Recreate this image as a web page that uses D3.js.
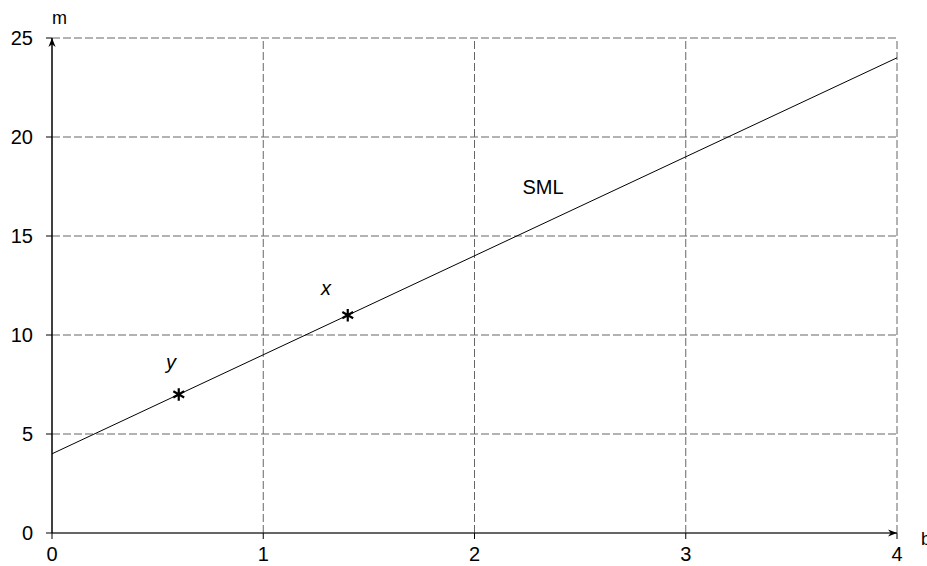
<!DOCTYPE html>
<html><head><meta charset="utf-8">
<script src="https://cdn.jsdelivr.net/npm/d3@7"></script>
<style>body{margin:0;background:#fff}svg{display:block}text{font-family:Arial,"Liberation Sans",sans-serif}</style>
</head><body><svg id="c" width="927" height="566"></svg>
<script>
const xTicks = [0, 1, 2, 3, 4];
const yTicks = [0, 5, 10, 15, 20, 25];
const smlLine = [[0, 4], [4, 24]];
const pointNames = ["y", "x"];
const pointBeta = [0.6, 1.4];
const pointReturn = [7, 11];
const labelBeta = [0.563, 1.297];
const labelReturn = [8.26, 12.02];
const smlLabel = {text: "SML", b: 2.324, m: 17.1};
const xAxisName = "b", yAxisName = "m";

const svg = d3.select("#c");
const x = d3.scaleLinear().domain([0, 4]).range([52, 897]);
const y = d3.scaleLinear().domain([0, 25]).range([533, 38]);

// grid
const g = svg.append("g");
g.selectAll(".vg").data(xTicks.filter(d => d > 0)).enter().append("line")
  .attr("x1", d => x(d)).attr("x2", d => x(d)).attr("y1", y(0)).attr("y2", y(25))
  .attr("stroke", "#666").attr("stroke-width", 1).attr("stroke-dasharray", "8,3");
g.selectAll(".hg").data(yTicks.filter(d => d > 0)).enter().append("line")
  .attr("x1", x(0)).attr("x2", x(4)).attr("y1", d => y(d)).attr("y2", d => y(d))
  .attr("stroke", "#666").attr("stroke-width", 1).attr("stroke-dasharray", "8,3");

// axes
const defs = svg.append("defs");
defs.append("marker").attr("id", "arr").attr("viewBox", "0 0 10 10").attr("refX", 10).attr("refY", 5)
  .attr("markerWidth", 9).attr("markerHeight", 9).attr("orient", "auto-start-reverse")
  .attr("markerUnits", "userSpaceOnUse")
  .append("path").attr("d", "M0,1 L10,5 L0,9 L3,5 Z").attr("fill", "#000");

svg.append("line").attr("x1", x(0)).attr("x2", x(4)).attr("y1", y(0)).attr("y2", y(0))
  .attr("stroke", "#333").attr("stroke-width", 1.5).attr("marker-end", "url(#arr)");
svg.append("line").attr("x1", x(0)).attr("x2", x(0)).attr("y1", y(0)).attr("y2", y(25))
  .attr("stroke", "#000").attr("stroke-width", 1.5).attr("marker-end", "url(#arr)");

// ticks
svg.selectAll(".yt").data(yTicks).enter().append("line")
  .attr("x1", x(0) - 6).attr("x2", x(0)).attr("y1", d => y(d)).attr("y2", d => y(d))
  .attr("stroke", "#000");
svg.selectAll(".xt").data(xTicks).enter().append("line")
  .attr("x1", d => x(d)).attr("x2", d => x(d)).attr("y1", y(0)).attr("y2", y(0) + 6)
  .attr("stroke", "#000");
svg.selectAll(".yl").data(yTicks).enter().append("text")
  .attr("x", 33).attr("y", d => y(d)).attr("dy", "0.36em").attr("text-anchor", "end")
  .attr("font-size", 20).text(d => d);
svg.selectAll(".xl").data(xTicks).enter().append("text")
  .attr("x", d => x(d)).attr("y", 561).attr("text-anchor", "middle")
  .attr("font-size", 20).text(d => d);
svg.append("text").attr("x", 52).attr("y", 24).attr("font-size", 18).text(yAxisName);
svg.append("text").attr("x", 921).attr("y", 545).attr("font-size", 18).text(xAxisName);

// SML
svg.append("path").attr("d", d3.line().x(d => x(d[0])).y(d => y(d[1]))(smlLine))
  .attr("stroke", "#000").attr("stroke-width", 1).attr("fill", "none");
svg.append("text").attr("x", x(smlLabel.b)).attr("y", y(smlLabel.m)).attr("text-anchor", "middle")
  .attr("font-size", 20).text(smlLabel.text);

// points
svg.selectAll(".pt").data(pointBeta).enter().append("path")
  .attr("transform", (d, i) => `translate(${x(d)},${y(pointReturn[i])})`)
  .attr("d", d3.symbol().type(d3.symbolAsterisk).size(110))
  .attr("stroke", "#000").attr("stroke-width", 2.2).attr("fill", "none");
svg.selectAll(".pl").data(pointNames).enter().append("text")
  .attr("x", (d, i) => x(labelBeta[i])).attr("y", (d, i) => y(labelReturn[i]))
  .attr("text-anchor", "middle").attr("font-size", 20).attr("font-style", "italic").text(d => d);
</script></body></html>
